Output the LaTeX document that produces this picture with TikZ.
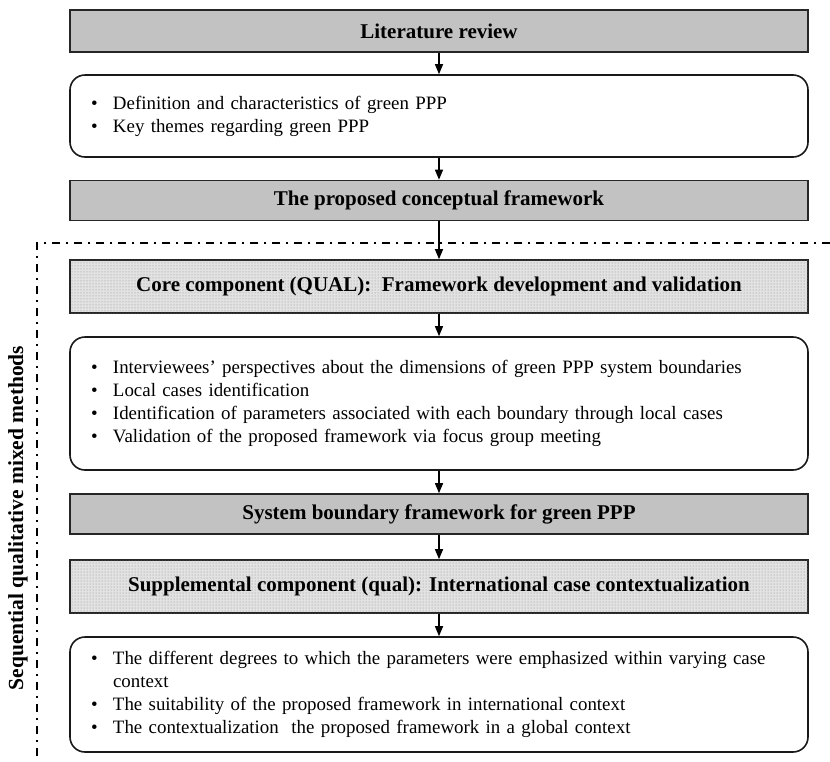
\documentclass[tikz,border=0pt]{standalone}
\usepackage{fontspec}
\setmainfont{Liberation Serif}
\usetikzlibrary{arrows.meta,patterns}
\definecolor{headgray}{HTML}{C2C2C2}
\definecolor{lightdot}{HTML}{E2E2E2}
\begin{document}
\begin{tikzpicture}[x=1pt,y=-1pt,
  headbox/.style={draw=black!85,line width=1.6pt,fill=headgray,minimum width=738pt,inner sep=0pt,font=\fontsize{21}{23}\selectfont\bfseries},
  dotbox/.style={draw=black!85,line width=1.6pt,fill=lightdot,postaction={pattern=dots,pattern color=black!45},minimum width=738pt,inner sep=0pt,font=\fontsize{21}{23}\selectfont\bfseries},
  listbox/.style={draw=black!90,line width=1.6pt,rounded corners=15pt,minimum width=738pt,inner xsep=21pt,inner ysep=0pt,text width=696pt,align=left,font=\fontsize{18.9}{23}\selectfont},
  arr/.style={line width=1.3pt,-{Triangle[length=10pt,width=8pt]}},
  dashdot/.style={line width=1.5pt,dash pattern=on 8pt off 6pt on 2pt off 6pt}
]
\useasboundingbox (0,0) rectangle (830,761);

\node[headbox,minimum height=42pt] (lit) at (439,31) {Literature review};
\node[listbox,minimum height=82pt] (def) at (439,116) {%
\begin{tabular}{@{}p{22pt}@{}l@{}}
\textbullet & Definition and characteristics of green PPP\\
\textbullet & Key themes regarding green PPP
\end{tabular}};
\node[headbox,minimum height=40pt] (prop) at (439,200.5) {The proposed conceptual framework};

\node[dotbox,minimum height=53pt] (core) at (439,286.5) {Core component (QUAL):\ \ Framework development and validation};
\node[listbox,minimum height=133pt] (inter) at (439,403.5) {%
\begin{tabular}{@{}p{22pt}@{}l@{}}
\textbullet & Interviewees’ perspectives about the dimensions of green PPP system boundaries\\
\textbullet & Local cases identification\\
\textbullet & Identification of parameters associated with each boundary through local cases\\
\textbullet & Validation of the proposed framework via focus group meeting
\end{tabular}};
\node[headbox,minimum height=40pt] (sys) at (439,514) {System boundary framework for green PPP};
\node[dotbox,minimum height=53pt] (supp) at (439,586.5) {Supplemental component (qual): International case contextualization};
\node[listbox,minimum height=115pt] (diff) at (439,694.5) {%
\begin{tabular}{@{}p{22pt}@{}l@{}}
\textbullet & The different degrees to which the parameters were emphasized within varying case\\
 & context\\
\textbullet & The suitability of the proposed framework in international context\\
\textbullet & The contextualization\ \ the proposed framework in a global context
\end{tabular}};

\draw[arr] (lit) -- (def);
\draw[arr] (def) -- (prop);
\draw[arr] (prop) -- (core);
\draw[arr] (core) -- (inter);
\draw[arr] (inter) -- (sys);
\draw[arr] (sys) -- (supp);
\draw[arr] (supp) -- (diff);

\coordinate (dr) at (830,243);
\coordinate (dc) at (37,243);
\coordinate (db) at (37,761);
\draw[dashdot] (dr) -- (dc) -- (db);

\node[rotate=90,font=\fontsize{21.5}{23}\selectfont\bfseries] (lab) at (18,518) {Sequential qualitative mixed methods};
\end{tikzpicture}
\end{document}
